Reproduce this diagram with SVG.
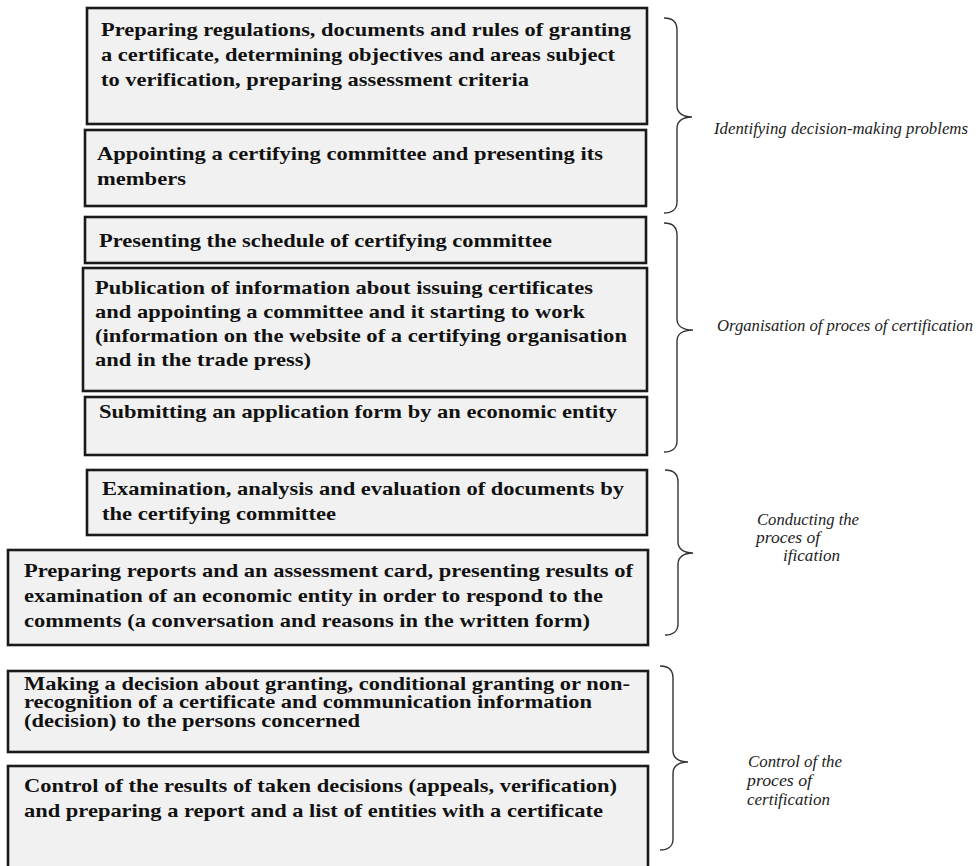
<svg xmlns="http://www.w3.org/2000/svg" width="978" height="866" viewBox="0 0 978 866">
<style>
.box{fill:#f1f1f1;stroke:#1a1a1a;stroke-width:2.6}
.t{font-family:"Liberation Serif","Times New Roman",serif;font-weight:bold;font-size:19.5px;fill:#111}
.tight{font-size:18px}
.lab{font-family:"Liberation Serif","Times New Roman",serif;font-style:italic;font-size:16.5px;fill:#222}
.brace{fill:none;stroke:#333;stroke-width:1.4}
</style>
<rect width="978" height="866" fill="#ffffff"/>
<g id="step1">
<rect class="box" x="87" y="8" width="560" height="116"/>
<text class="t" x="101" y="36" textLength="530" lengthAdjust="spacingAndGlyphs">Preparing regulations, documents and rules of granting</text>
<text class="t" x="101" y="61" textLength="514" lengthAdjust="spacingAndGlyphs">a certificate, determining objectives and areas subject</text>
<text class="t" x="101" y="86" textLength="428" lengthAdjust="spacingAndGlyphs">to verification, preparing assessment criteria</text>
</g>
<g id="step2">
<rect class="box" x="85" y="130" width="561" height="76"/>
<text class="t" x="97" y="160" textLength="506" lengthAdjust="spacingAndGlyphs">Appointing a certifying committee and presenting its</text>
<text class="t" x="97" y="185" textLength="89" lengthAdjust="spacingAndGlyphs">members</text>
</g>
<g id="step3">
<rect class="box" x="85" y="217" width="561" height="46"/>
<text class="t" x="99" y="247" textLength="453" lengthAdjust="spacingAndGlyphs">Presenting the schedule of certifying committee</text>
</g>
<g id="step4">
<rect class="box" x="83" y="268" width="564" height="123"/>
<text class="t" x="95" y="294" textLength="498" lengthAdjust="spacingAndGlyphs">Publication of information about issuing certificates</text>
<text class="t" x="95" y="318" textLength="490" lengthAdjust="spacingAndGlyphs">and appointing a committee and it starting to work</text>
<text class="t" x="95" y="342" textLength="532" lengthAdjust="spacingAndGlyphs">(information on the website of a certifying organisation</text>
<text class="t" x="95" y="366" textLength="216" lengthAdjust="spacingAndGlyphs">and in the trade press)</text>
</g>
<g id="step5">
<rect class="box" x="85" y="397" width="562" height="58"/>
<text class="t" x="99" y="418" textLength="518" lengthAdjust="spacingAndGlyphs">Submitting an application form by an economic entity</text>
</g>
<g id="step6">
<rect class="box" x="87" y="470" width="560" height="65"/>
<text class="t" x="102" y="495" textLength="522" lengthAdjust="spacingAndGlyphs">Examination, analysis and evaluation of documents by</text>
<text class="t" x="102" y="520" textLength="234" lengthAdjust="spacingAndGlyphs">the certifying committee</text>
</g>
<g id="step7">
<rect class="box" x="8" y="550" width="640" height="95"/>
<text class="t" x="24" y="577" textLength="609" lengthAdjust="spacingAndGlyphs">Preparing reports and an assessment card, presenting results of</text>
<text class="t" x="24" y="602" textLength="579" lengthAdjust="spacingAndGlyphs">examination of an economic entity in order to respond to the</text>
<text class="t" x="24" y="627" textLength="566" lengthAdjust="spacingAndGlyphs">comments (a conversation and reasons in the written form)</text>
</g>
<g id="step8">
<rect class="box" x="8" y="671" width="640" height="81"/>
<text class="t tight" x="24" y="690" textLength="606" lengthAdjust="spacingAndGlyphs">Making a decision about granting, conditional granting or non-</text>
<text class="t tight" x="24" y="708" textLength="568" lengthAdjust="spacingAndGlyphs">recognition of a certificate and communication information</text>
<text class="t tight" x="24" y="727" textLength="336" lengthAdjust="spacingAndGlyphs">(decision) to the persons concerned</text>
</g>
<g id="step9">
<rect class="box" x="8" y="766" width="640" height="110"/>
<text class="t" x="24" y="792" textLength="593" lengthAdjust="spacingAndGlyphs">Control of the results of taken decisions (appeals, verification)</text>
<text class="t" x="24" y="817" textLength="579" lengthAdjust="spacingAndGlyphs">and preparing a report and a list of entities with a certificate</text>
</g>
<g id="connectors">
<path class="brace" d="M664 18 C672 18 677 22 677 30 L677 106 C677 113 683 117 692 117 C683 117 677 121 677 128 L677 202 C677 209 672 213 664 213"/>
<path class="brace" d="M664 223 C672 223 677 227 677 235 L677 319 C677 326 683 330 693 330 C683 330 677 334 677 341 L677 441 C677 448 672 452 664 452"/>
<path class="brace" d="M665 470 C673 470 678 474 678 482 L678 542 C678 549 684 553 693 553 C684 553 678 557 678 564 L678 624 C678 631 673 635 665 635"/>
<path class="brace" d="M660 666 C668 666 673 670 673 678 L673 751 C673 758 679 762 688 762 C679 762 673 766 673 773 L673 839 C673 846 668 850 660 850"/>
</g>
<g id="label-identifying">
<text class="lab" x="714" y="134" textLength="254" lengthAdjust="spacingAndGlyphs">Identifying decision-making problems</text>
</g>
<g id="label-organisation">
<text class="lab" x="717" y="331" textLength="256" lengthAdjust="spacingAndGlyphs">Organisation of proces of certification</text>
</g>
<g id="label-conducting">
<text class="lab" x="757" y="525" textLength="102" lengthAdjust="spacingAndGlyphs">Conducting the</text>
<text class="lab" x="756" y="543" textLength="64" lengthAdjust="spacingAndGlyphs">proces of</text>
<text class="lab" x="783" y="561" textLength="57" lengthAdjust="spacingAndGlyphs">ification</text>
</g>
<g id="label-control">
<text class="lab" x="748" y="767" textLength="94" lengthAdjust="spacingAndGlyphs">Control of the</text>
<text class="lab" x="747" y="786" textLength="65" lengthAdjust="spacingAndGlyphs">proces of</text>
<text class="lab" x="747" y="805" textLength="83" lengthAdjust="spacingAndGlyphs">certification</text>
</g>
</svg>
